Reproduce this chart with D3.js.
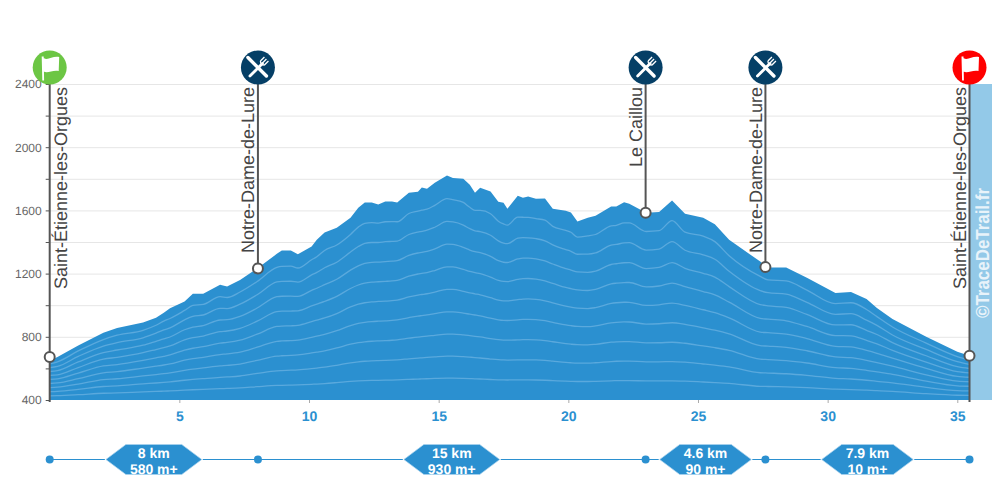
<!DOCTYPE html>
<html>
<head>
<meta charset="utf-8">
<script src="https://cdn.jsdelivr.net/npm/d3@7"></script>
<style>
body { margin: 0; background: #fff; }
text { font-family: "Liberation Sans", Arial, sans-serif; text-rendering: geometricPrecision; }
</style>
</head>
<body>
<div id="Chart"></div>
<script>
var w = 1000;
var h = 500;

// profile
var kms = [0, 0.3, 1.1, 2.07, 2.6, 3.6, 4.1, 4.4, 4.64, 5.2, 5.52, 5.92, 6.57, 6.84, 7.34, 8, 8.76, 8.95, 9.3, 9.57, 10.1, 10.3, 10.6, 11.07, 11.6, 11.9, 12.15, 12.42, 12.67, 12.94, 13.2, 13.4, 13.85, 14.2, 14.35, 14.55, 14.85, 15.32, 15.55, 15.95, 16.2, 16.4, 16.6, 17, 17.3, 17.5, 17.65, 18.05, 18.25, 18.45, 18.75, 19.1, 19.4, 19.9, 20.1, 20.35, 20.75, 21.05, 21.65, 21.85, 22.15, 22.35, 23, 23.5, 24, 24.5, 25.2, 25.65, 26.2, 27.4, 27.7, 28.4, 29.2, 30.3, 30.9, 31.5, 31.9, 32.5, 33.8, 35, 35.47];
var elevations = [650, 672, 745, 825, 856, 890, 920, 953, 981, 1023, 1072, 1072, 1129, 1118, 1160, 1233, 1325, 1346, 1346, 1323, 1372, 1414, 1460, 1490, 1553, 1617, 1650, 1650, 1638, 1657, 1657, 1650, 1712, 1718, 1745, 1737, 1775, 1821, 1805, 1800, 1762, 1712, 1743, 1720, 1655, 1648, 1610, 1693, 1680, 1688, 1673, 1675, 1610, 1598, 1587, 1530, 1553, 1566, 1625, 1625, 1652, 1642, 1585, 1590, 1663, 1579, 1553, 1513, 1414, 1276, 1238, 1238, 1173, 1078, 1084, 1040, 983, 913, 800, 706, 680];

// waypoints
var wpNames = ["Saint-Étienne-les-Orgues", "Notre-Dame-de-Lure", "Le Caillou", "Notre-Dame-de-Lure", "Saint-Étienne-les-Orgues"];
var wpKm = [0, 8.03, 22.98, 27.6, 35.47];
var wpElev = [672, 1233, 1585, 1241, 680];
var wpType = ["start", "food", "food", "food", "end"];

// legs between waypoints
var legDist = ["8 km", "15 km", "4.6 km", "7.9 km"];
var legGain = ["580 m+", "930 m+", "90 m+", "10 m+"];

var yTicks = [400, 600, 800, 1000, 1200, 1400, 1600, 1800, 2000, 2200, 2400];
var yLabels = [400, 800, 1200, 1600, 2000, 2400];
var xTicks = [5, 10, 15, 20, 25, 30, 35];

var blue = "#2b90d0";
var grey = "#555";
var iconColors = { start: "#6cc644", food: "#053f66", end: "#ff0000" };

var x = d3.scaleLinear().domain([0, 35.47]).range([49.7, 969.5]);
var y = d3.scaleLinear().domain([400, 2400]).range([400, 84]);

var svg = d3.select("#Chart").append("svg")
    .attr("width", w)
    .attr("height", h)
    .style("display", "block");

// grid
svg.append("g").selectAll("line")
    .data(yTicks.filter(function(d){ return d > 400; }))
    .enter()
    .append("line")
    .attr("x1", x(0))
    .attr("x2", x(35.47))
    .attr("y1", function(d){ return y(d) + 0.5; })
    .attr("y2", function(d){ return y(d) + 0.5; })
    .attr("stroke", "#e6e6e6");

// watermark band
svg.append("rect")
    .attr("x", x(35.47))
    .attr("y", y(2400))
    .attr("width", 992 - x(35.47))
    .attr("height", y(400) - y(2400))
    .attr("fill", "#93c9e8");

svg.append("text")
    .text("©TraceDeTrail.fr")
    .attr("transform", "translate(988.5,318) rotate(-90)")
    .attr("textLength", 130)
    .attr("lengthAdjust", "spacingAndGlyphs")
    .attr("font-size", 19)
    .attr("font-weight", "bold")
    .attr("fill", "#e8f3fa");

// profile
var profile = kms.map(function(d, i){ return { km: d, ele: elevations[i] }; });

var area = d3.area()
    .x(function(d){ return x(d.km); })
    .y0(y(400))
    .y1(function(d){ return y(d.ele); });

svg.append("path")
    .datum(profile)
    .attr("d", area)
    .attr("fill", blue);

// light contour lines: the profile squeezed towards the base, smoother further down
var line = d3.line()
    .x(function(d){ return x(d.km); })
    .y(function(d){ return y(d.ele); })
    .curve(d3.curveMonotoneX);

d3.range(1, 10).forEach(function(n){
    var f = n / 10;
    var band = 0.12 + (1 - f) * 0.5;
    var pts = profile.map(function(p){
        var sum = 0, tot = 0;
        profile.forEach(function(q){
            var k = Math.exp(-Math.pow((q.km - p.km) / band, 2) / 2);
            sum += k * q.ele;
            tot += k;
        });
        return { km: p.km, ele: 400 + (sum / tot - 400) * f };
    });
    svg.append("path")
        .datum(pts)
        .attr("d", line)
        .attr("fill", "none")
        .attr("stroke", "#5aa9dd")
        .attr("stroke-width", 1.3);
});

// axes
var yAxis = d3.axisLeft(y)
    .tickValues(yTicks)
    .tickSize(4)
    .tickPadding(4)
    .tickFormat(function(d){ return yLabels.indexOf(d) >= 0 ? d : ""; });

var gy = svg.append("g")
    .attr("transform", "translate(" + x(0) + ",0)")
    .call(yAxis);
gy.select(".domain").remove();
gy.selectAll("line").attr("stroke", grey);
gy.selectAll("text")
    .attr("font-family", null)
    .attr("font-size", 12)
    .attr("fill", "#666");

var xAxis = d3.axisBottom(x)
    .tickValues(xTicks)
    .tickSize(3)
    .tickPadding(8);

var gx = svg.append("g")
    .attr("transform", "translate(0," + y(400) + ")")
    .call(xAxis);
gx.select(".domain").remove();
gx.selectAll("line").attr("stroke", "#aaa");
gx.selectAll("text")
    .attr("font-family", null)
    .attr("font-size", 14)
    .attr("font-weight", "bold")
    .attr("fill", blue);

// waypoints
var wp = svg.append("g").selectAll("g")
    .data(wpNames)
    .enter()
    .append("g")
    .attr("transform", function(d, i){ return "translate(" + x(wpKm[i]) + ",0)"; });

wp.append("line")
    .attr("y1", 67)
    .attr("y2", function(d, i){ return wpType[i] == "food" ? y(wpElev[i]) : y(400) + 2; })
    .attr("stroke", grey)
    .attr("stroke-width", 2);

wp.append("text")
    .text(function(d){ return d; })
    .attr("transform", function(d, i){
        return "translate(" + (wpType[i] == "start" ? 17 : -3.5) + ",87) rotate(-90)";
    })
    .attr("text-anchor", "end")
    .attr("font-size", 18)
    .attr("fill", "#444");

wp.append("circle")
    .attr("cy", function(d, i){ return y(wpElev[i]); })
    .attr("r", 5)
    .attr("fill", "#fff")
    .attr("stroke", grey)
    .attr("stroke-width", 2);

var icons = wp.append("g").attr("transform", "translate(0,67.5)");

icons.append("circle")
    .attr("r", 17)
    .attr("fill", function(d, i){ return iconColors[wpType[i]]; });

// flag
icons.filter(function(d, i){ return wpType[i] != "food"; })
    .append("path")
    .attr("d", "M-8,-11 L-6,-11 L-5.6,13 L-7.4,13 Z M-6,-9.5 C-2,-6.5 3,-12 9.5,-10.5 L9,3.5 C3,2 -2,6.5 -6,4 Z")
    .attr("fill", "#fff");

// knife and fork
var food = icons.filter(function(d, i){ return wpType[i] == "food"; });
food.append("path")
    .attr("d", "M-10,-10 L8.5,8.5")
    .attr("fill", "none")
    .attr("stroke", "#fff")
    .attr("stroke-width", 3.4)
    .attr("stroke-linecap", "round");
food.append("path")
    .attr("d", "M-8,8.5 L4.5,-4")
    .attr("fill", "none")
    .attr("stroke", "#fff")
    .attr("stroke-width", 2.8)
    .attr("stroke-linecap", "round");
food.append("path")
    .attr("d", "M2.5,-6.5 L6.5,-10.5 M4.5,-4.5 L8.5,-8.5 M6.5,-2.5 L10.5,-6.5 M2.5,-6.5 Q2.5,-2.5 6.5,-2.5")
    .attr("fill", "none")
    .attr("stroke", "#fff")
    .attr("stroke-width", 1.3);

// legs under the chart
var legY = 459.5;
var legs = svg.append("g");

legDist.forEach(function(dist, i){
    var x0 = x(wpKm[i]);
    var x1 = x(wpKm[i + 1]);
    var cx = (x0 + x1) / 2;

    var g = legs.append("g");
    var t1 = g.append("text")
        .text(dist)
        .attr("x", cx)
        .attr("y", legY - 2)
        .attr("text-anchor", "middle")
        .attr("font-size", 14)
        .attr("font-weight", "bold")
        .attr("fill", "#fff");
    var t2 = g.append("text")
        .text(legGain[i])
        .attr("x", cx)
        .attr("y", legY + 14)
        .attr("text-anchor", "middle")
        .attr("font-size", 14)
        .attr("font-weight", "bold")
        .attr("fill", "#fff");

    var half = Math.max(t1.node().getComputedTextLength(), t2.node().getComputedTextLength()) / 2 + 24;

    legs.append("line")
        .attr("x1", x0).attr("x2", cx - half - 1)
        .attr("y1", legY).attr("y2", legY)
        .attr("stroke", blue);
    legs.append("line")
        .attr("x1", cx + half + 1).attr("x2", x1)
        .attr("y1", legY).attr("y2", legY)
        .attr("stroke", blue);

    g.insert("path", "text")
        .attr("d", "M" + (cx - half) + "," + legY +
            "L" + (cx - half + 20) + "," + (legY - 15) +
            "L" + (cx + half - 20) + "," + (legY - 15) +
            "L" + (cx + half) + "," + legY +
            "L" + (cx + half - 20) + "," + (legY + 15) +
            "L" + (cx - half + 20) + "," + (legY + 15) + "Z")
        .attr("fill", blue)
        .attr("stroke", "#a9d3ee")
        .attr("stroke-width", 0.7);
});

legs.selectAll("circle")
    .data(wpKm)
    .enter()
    .append("circle")
    .attr("cx", function(d){ return x(d); })
    .attr("cy", legY)
    .attr("r", 4)
    .attr("fill", blue);
</script>
</body>
</html>
